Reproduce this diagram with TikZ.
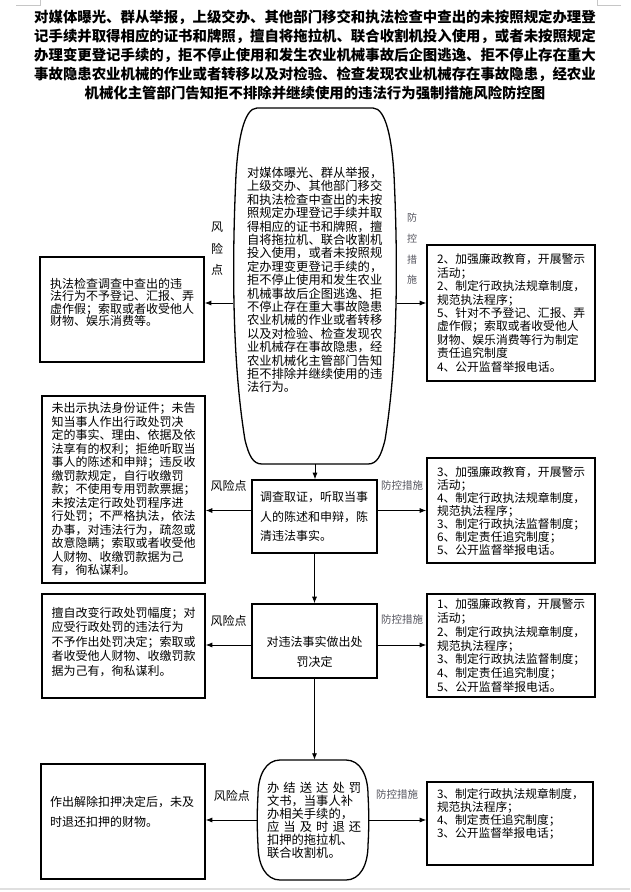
\documentclass[tikz,border=0pt]{standalone}
\usepackage{fontspec}
\setmainfont{Noto Sans CJK SC}
\usetikzlibrary{arrows.meta}
\definecolor{fkgray}{RGB}{85,85,95}

\begin{document}
\begin{tikzpicture}[x=1pt,y=-1pt,
  box/.style={draw,line width=1.6pt,align=left,inner sep=0pt},
  oval/.style={draw,line width=1.3pt},
  arr/.style={-{Latex[length=6.5pt,width=5pt]},line width=0.8pt},
  fx/.style={font=\fontsize{12}{14}\selectfont},
  fk/.style={font=\fontsize{10.5}{12}\selectfont,text=fkgray}]
  \useasboundingbox (0,0) rectangle (630,892);
  % page marks
  \draw[gray!45,line width=0.6pt] (16,5) -- (40,5) -- (40,0);
  \draw[gray!45,line width=0.6pt] (621,5) -- (597,5) -- (597,0);
  \draw[gray!25,line width=2pt] (0,889) -- (630,889);

  \node[font=\fontsize{14.4}{19}\selectfont\bfseries,align=center] (title) at (315,55)
    {对媒体曝光、群从举报，上级交办、其他部门移交和执法检查中查出的未按照规定办理登\\
     记手续并取得相应的证书和牌照，擅自将拖拉机、联合收割机投入使用，或者未按照规定\\
     办理变更登记手续的，拒不停止使用和发生农业机械事故后企图逃逸、拒不停止存在重大\\
     事故隐患农业机械的作业或者转移以及对检验、检查发现农业机械存在事故隐患，经农业\\
     机械化主管部门告知拒不排除并继续使用的违法行为强制措施风险防控图};

  % start
  \draw[oval] (257,108) -- (373,108) .. controls (386,108) and (392,140) .. (394,175)
    .. controls (398,260) and (398,360) .. (385,440) .. controls (381,456) and (377,464) .. (368,464)
    -- (262,464) .. controls (253,464) and (249,456) .. (245,440)
    .. controls (232,360) and (232,260) .. (236,175) .. controls (238,140) and (244,108) .. (257,108) -- cycle;
  \node[inner sep=0pt,minimum width=163pt,minimum height=356pt,text width=136pt,align=left,
    font=\fontsize{12.3}{13.4}\selectfont] (o1) at (315,286)
    {对媒体曝光、群从举报，\\上级交办、其他部门移交\\和执法检查中查出的未按\\照规定办理登记手续并取\\
     得相应的证书和牌照，擅\\自将拖拉机、联合收割机\\投入使用，或者未按照规\\定办理变更登记手续的，\\
     拒不停止使用和发生农业\\机械事故后企图逃逸、拒\\不停止存在重大事故隐患\\农业机械的作业或者转移\\
     以及对检验、检查发现农\\业机械存在事故隐患，经\\农业机械化主管部门告知\\拒不排除并继续使用的违\\
     法行为。\\[-0.4pt]\mbox{}};

  \node[fx,align=center,font=\fontsize{12}{21.5}\selectfont] (r1) at (217,249) {风\\险\\点};
  \node[fk,align=center,font=\fontsize{10}{20.7}\selectfont] (k1) at (412,249) {防\\控\\措\\施};

  \node[box,minimum width=164pt,minimum height=105pt,text width=144pt,
    font=\fontsize{12}{12.6}\selectfont] (lb1) at (122,309.5)
    {执法检查调查中查出的违\\法行为不予登记、汇报、弄\\虚作假；索取或者收受他人\\财物、娱乐消费等。\\[2.5pt]\mbox{}};
  \node[box,minimum width=168pt,minimum height=136pt,text width=148pt,
    font=\fontsize{11.8}{13.4}\selectfont] (rb1) at (511,313)
    {2、加强廉政教育，开展警示\\活动；\\2、制定行政执法规章制度，\\规范执法程序；\\
     5、针对不予登记、汇报、弄\\虚作假；索取或者收受他人\\财物、娱乐消费等行为制定\\责任追究制度\\
     4、公开监督举报电话。};

  % step 2
  \node[box,minimum width=125pt,minimum height=73pt,text width=109pt,
    font=\fontsize{12}{19.5}\selectfont] (inv) at (314.5,516.5)
    {调查取证，听取当事\\人的陈述和申辩，陈\\清违法事实。};
  \node[box,minimum width=163pt,minimum height=187pt,text width=144pt,
    font=\fontsize{12}{13.5}\selectfont] (lb2) at (123.5,489.5)
    {未出示执法身份证件；未告\\知当事人作出行政处罚决\\定的事实、理由、依据及依\\法享有的权利；拒绝听取当\\
     事人的陈述和申辩；违反收\\缴罚款规定，自行收缴罚\\款；不使用专用罚款票据；\\未按法定行政处罚程序进\\
     行处罚；不严格执法，依法\\办事，对违法行为，疏忽或\\故意隐瞒；索取或者收受他\\人财物、收缴罚款据为己\\
     有，徇私谋利。};
  \node[box,minimum width=168pt,minimum height=105pt,text width=148pt,
    font=\fontsize{11.8}{13}\selectfont] (rb2) at (511,510.5)
    {3、加强廉政教育，开展警示\\活动；\\4、制定行政执法规章制度，\\规范执法程序；\\
     3、制定行政执法监督制度；\\6、制定责任追究制度；\\5、公开监督举报电话。};

  % step 3
  \node[box,minimum width=125pt,minimum height=74pt,text width=109pt,align=center,
    font=\fontsize{12}{20}\selectfont] (dec) at (314.5,641)
    {\mbox{}\\[12pt]对违法事实做出处\\罚决定};
  \node[box,minimum width=163pt,minimum height=104pt,text width=144pt,
    font=\fontsize{12}{14.5}\selectfont] (lb3) at (123.5,646)
    {擅自改变行政处罚幅度；对\\应受行政处罚的违法行为\\不予作出处罚决定；索取或\\者收受他人财物、收缴罚款\\
     据为己有，徇私谋利。\\[-4.5pt]\mbox{}};
  \node[box,minimum width=168pt,minimum height=103pt,text width=148pt,
    font=\fontsize{11.8}{13.7}\selectfont] (rb3) at (511,645.5)
    {1、加强廉政教育，开展警示\\活动；\\2、制定行政执法规章制度，\\规范执法程序；\\
     3、制定行政执法监督制度；\\4、制定责任追究制度；\\5、公开监督举报电话。};

  % end
  \draw[oval] (280,760) -- (346,760) .. controls (360,760) and (368,775) .. (368,795)
    .. controls (369,810) and (369,830) .. (368,845) .. controls (368,865) and (360,880) .. (346,880)
    -- (280,880) .. controls (266,880) and (258,865) .. (258,845)
    .. controls (257,830) and (257,810) .. (258,795) .. controls (258,775) and (266,760) .. (280,760) -- cycle;
  \node[inner sep=0pt,minimum width=110pt,minimum height=120pt,text width=92pt,align=left,
    font=\fontsize{12.3}{13}\selectfont] (o2) at (313,820)
    {\makebox[86pt][s]{办 结 送 达 处 罚}\\文书，当事人补\\办相关手续的，\\
     \makebox[86pt][s]{应 当 及 时 退 还}\\扣押的拖拉机、\\联合收割机。};
  \node[box,minimum width=164pt,minimum height=115pt,text width=146pt,
    font=\fontsize{12}{20}\selectfont] (lb4) at (123,821.5)
    {作出解除扣押决定后，未及\\时退还扣押的财物。\\\mbox{}};
  \node[box,minimum width=166pt,minimum height=83pt,text width=146pt,
    font=\fontsize{11.7}{13}\selectfont] (rb4) at (510,823.5)
    {3、制定行政执法规章制度，\\规范执法程序；\\4、制定责任追究制度；\\3、公开监督举报电话；\\[9pt]\mbox{}};

  % connectors
  \coordinate (a1) at ([yshift=-17pt]o1.west);
  \coordinate (a2) at ([yshift=-17pt]o1.east);
  \coordinate (b1) at ([yshift=6pt]inv.west);
  \coordinate (b2) at ([yshift=6pt]inv.east);
  \coordinate (c1) at ([yshift=-4pt]dec.west);
  \coordinate (c2) at ([yshift=-4pt]dec.east);
  \draw[arr] (a1) -- (a1 -| lb1.east);
  \draw[arr] (a2) -- (a2 -| rb1.west);
  \draw[arr] (o1.south) -- (o1.south |- inv.north);
  \draw[arr] (b1) -- (b1 -| lb2.east) node[fx,midway,above=15pt] (r2) {风险点};
  \draw[arr] (b2) -- (b2 -| rb2.west) node[fk,midway,above=16.5pt] (k2) {防控措施};
  \draw[arr] (inv.south) -- (dec.north);
  \draw[arr] (c1) -- (c1 -| lb3.east) node[fx,midway,above=15pt] (r3) {风险点};
  \draw[arr] (c2) -- (c2 -| rb3.west) node[fk,midway,above=16.5pt] (k3) {防控措施};
  \draw[arr] (dec.south) -- (dec.south |- o2.north);
  \draw[arr] (o2.west) -- (o2.west -| lb4.east) node[fx,midway,above=15pt] (r4) {风险点};
  \draw[arr] (o2.east) -- (o2.east -| rb4.west) node[fk,midway,above=16.5pt] (k4) {防控措施};
\end{tikzpicture}
\end{document}
